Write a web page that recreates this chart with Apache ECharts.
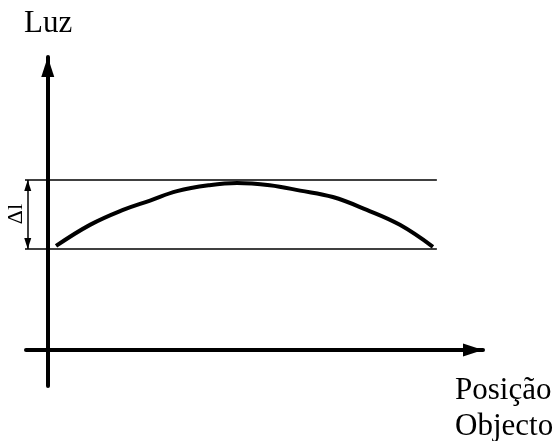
<!DOCTYPE html>
<html>
<head>
<meta charset="utf-8">
<script src="https://cdn.jsdelivr.net/npm/echarts@6/dist/echarts.min.js"></script>
<style>html,body{margin:0;padding:0;background:#fff}#c{width:558px;height:441px}</style>
</head>
<body>
<div id="c"></div>
<script>
// Curve: light vs object position (schematic units)
var positions = [0.19, 0.97, 1.73, 2.35, 2.97, 3.7, 4.35, 5.1, 5.8, 6.55, 7.33, 8.09, 8.85];
var light     = [3.55, 4.27, 4.78, 5.10, 5.42, 5.62, 5.70, 5.62, 5.44, 5.22, 4.78, 4.27, 3.52];
// Reference levels (max and min of light)
var levelMax = 5.80;
var levelMin = 3.45;
var levelXRange = [-0.64, 8.94];
var deltaX = -0.46;
// Axis extents
var xRange = [-0.5, 10];
var yRange = [-1.23, 10];
var yAxisName = 'Luz';
var xAxisName = ['Posição', 'Objecto'];
var deltaLabel = 'Δl';

var chart = echarts.init(document.getElementById('c'));
var serif = '"Liberation Serif", "DejaVu Serif", serif';
var axisCommon = {
  type: 'value',
  axisLine: { show: true, onZero: true, symbol: ['none', 'triangle'], symbolSize: [13, 20], symbolOffset: [0, -10],
              lineStyle: { color: '#000', width: 4 } },
  axisTick: { show: false }, axisLabel: { show: false }, splitLine: { show: false }
};
chart.setOption({
  animation: false,
  backgroundColor: '#fff',
  grid: { left: 26, right: 75, top: 57, bottom: 55, containLabel: false },
  xAxis: Object.assign({}, axisCommon, { min: xRange[0], max: xRange[1] }),
  yAxis: Object.assign({}, axisCommon, { min: yRange[0], max: yRange[1] }),
  series: [
    { type: 'line', clip: false, symbol: 'none', lineStyle: { color: '#000', width: 1.5 },
      data: [[levelXRange[0], levelMax], [levelXRange[1], levelMax]] },
    { type: 'line', clip: false, symbol: 'none', lineStyle: { color: '#000', width: 1.5 },
      data: [[levelXRange[0], levelMin], [levelXRange[1], levelMin]] },
    { type: 'line', clip: false, symbol: 'none', smooth: 0.4, lineStyle: { color: '#000', width: 4 },
      data: positions.map(function (p, i) { return [p, light[i]]; }) },
    { type: 'line', clip: false, symbol: 'none', data: [],
      markLine: { silent: true, symbol: ['triangle', 'triangle'], symbolSize: [7, 11],
        label: { show: false }, lineStyle: { color: '#000', width: 1.5, type: 'solid' },
        data: [[{ coord: [deltaX, levelMin], symbolOffset: [0, 5.5] }, { coord: [deltaX, levelMax], symbolOffset: [0, 5.5] }]] } }
  ],
  graphic: [
    { type: 'text', left: 24, top: 8, style: { text: yAxisName, font: '31px ' + serif, fill: '#000' } },
    { type: 'text', left: 455, top: 373, style: { text: xAxisName.join('\n'), font: '31px ' + serif, fill: '#000', lineHeight: 36 } },
    { type: 'text', x: 16, y: 214, rotation: Math.PI / 2,
      style: { text: deltaLabel, font: '22px ' + serif, fill: '#000', align: 'center', verticalAlign: 'middle' } }
  ]
});
</script>
</body>
</html>
